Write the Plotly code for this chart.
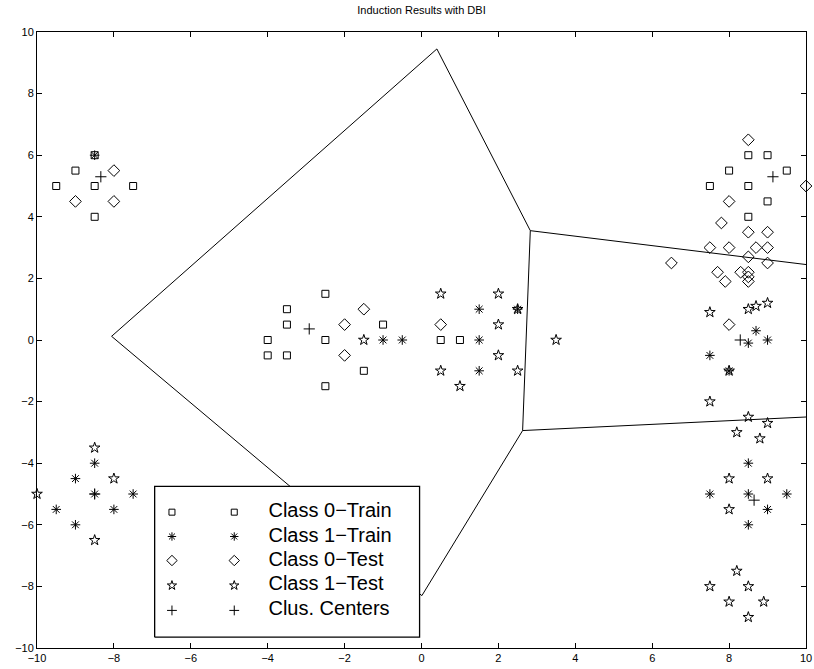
import plotly.graph_objects as go

# ---------------- data ----------------
c0_train_x = [-8.5, -9, -9.5, -8.5, -7.5, -8.5,
              -2.5, -3.5, -3.5, -4, -2.5, -4, -3.5, -1.5, -2.5, -1, 0.5, 1,
              8.5, 9, 8, 9.5, 7.5, 8.5, 9, 8.5]
c0_train_y = [6, 5.5, 5, 5, 5, 4,
              1.5, 1, 0.5, 0, 0, -0.5, -0.5, -1, -1.5, 0.5, 0, 0,
              6, 6, 5.5, 5.5, 5, 5, 4.5, 4]

c1_train_x = [-8.5,
              -8.5, -9, -8.5, -7.5, -9.5, -8, -9,
              -1, -0.5, 1.5, 1.5, 1.5, 2.5,
              8.7, 8.5, 9, 7.5, 8, 8.5, 7.5, 8.5, 9.5, 9, 8.5]
c1_train_y = [6,
              -4, -4.5, -5, -5, -5.5, -5.5, -6,
              0, 0, 1, 0, -1, 1,
              0.3, -0.1, 0, -0.5, -1, -4, -5, -5, -5, -5.5, -6]

c0_test_x = [-8, -9, -8,
             -1.5, -2, -2, 0.5,
             8.5, 10, 8, 7.8, 8.5, 9, 7.5, 8, 8.7, 9, 8.5, 9, 6.5, 7.7, 7.9,
             8.3, 8.5, 8.5, 8.5, 8]
c0_test_y = [5.5, 4.5, 4.5,
             1, 0.5, -0.5, 0.5,
             6.5, 5, 4.5, 3.8, 3.5, 3.5, 3, 3, 3, 3, 2.7, 2.5, 2.5, 2.2, 1.9,
             2.2, 2.2, 2.05, 1.9, 0.5]

c1_test_x = [-8.5, -8, -10, -8.5,
             -1.5, 0.5, 2, 2.5, 2, 3.5, 2, 0.5, 2.5, 1,
             7.5, 8.5, 8.7, 9, 8, 7.5, 8.5, 9, 8.2, 8.8, 8, 9, 8,
             8.2, 7.5, 8.5, 8, 8.9, 8.5]
c1_test_y = [-3.5, -4.5, -5, -6.5,
             0, 1.5, 1.5, 1, 0.5, 0, -0.5, -1, -1, -1.5,
             0.9, 1.0, 1.1, 1.2, -1, -2, -2.5, -2.7, -3, -3.2, -4.5, -4.5, -5.5,
             -7.5, -8, -8, -8.5, -8.5, -9]

centers_x = [-8.34, -8.5, -2.92, 8.29, 8.65, 9.14]
centers_y = [5.3, -5.0, 0.36, 0.0, -5.2, 5.3]

# decision boundary segments (None separates segments)
bound_x = [-8.06, 0.40, 2.83, 2.63, 0.01, -2.03, -8.06, None,
           2.83, 10, None,
           2.63, 10]
bound_y = [0.12, 9.45, 3.55, -2.94, -8.30, -6.21, 0.12, None,
           3.55, 2.45, None,
           -2.94, -2.50]

legend_labels = ["Class 0\u2212Train", "Class 1\u2212Train", "Class 0\u2212Test",
                 "Class 1\u2212Test", "Clus. Centers"]

# ---------------- styling ----------------
FONT = "Liberation Sans, Arial, Helvetica, sans-serif"
symbols = ["square-open", "asterisk-open", "diamond-open", "star-open", "cross-thin-open"]
sizes = [7, 8, 9, 8, 8]
leg_sizes = [6, 7, 8, 7, 7]

fig = go.Figure()

fig.add_trace(go.Scatter(x=bound_x, y=bound_y, mode="lines",
                         line=dict(color="black", width=1), hoverinfo="skip"))

series = [(c0_train_x, c0_train_y), (c1_train_x, c1_train_y),
          (c0_test_x, c0_test_y), (c1_test_x, c1_test_y),
          (centers_x, centers_y)]
for (sx, sy), sym, sz, name in zip(series, symbols, sizes, legend_labels):
    fig.add_trace(go.Scatter(
        x=sx, y=sy, mode="markers", name=name, cliponaxis=False,
        marker=dict(symbol=sym, size=sz, color="black",
                    line=dict(color="black", width=1))))

# legend box (drawn inside the axes, over the data)
LX0, LX1, LY0, LY1 = -6.94, -0.05, -9.65, -4.75
fig.add_trace(go.Scatter(
    x=[LX0, LX1, LX1, LX0, LX0], y=[LY0, LY0, LY1, LY1, LY0],
    mode="lines", fill="toself", fillcolor="white",
    line=dict(color="black", width=1.3), hoverinfo="skip"))

row_y = [-5.59, -6.38, -7.16, -7.97, -8.78]
col1_x, col2_x, text_x = -6.49, -4.87, -3.98
for i, (sym, sz, lab) in enumerate(zip(symbols, leg_sizes, legend_labels)):
    fig.add_trace(go.Scatter(
        x=[col1_x, col2_x], y=[row_y[i], row_y[i]], mode="markers",
        marker=dict(symbol=sym, size=sz, color="black",
                    line=dict(color="black", width=1)), hoverinfo="skip"))
    fig.add_trace(go.Scatter(
        x=[text_x], y=[row_y[i]], mode="text", text=[lab],
        textposition="middle right",
        textfont=dict(family=FONT, size=20, color="black"), hoverinfo="skip"))

axis_common = dict(
    showline=True, linecolor="black", linewidth=1, mirror="allticks",
    ticks="inside", ticklen=5, tickcolor="black", tickwidth=1,
    showgrid=False, zeroline=False, automargin=False,
    tickfont=dict(family=FONT, size=11, color="black"),
    range=[-10, 10], tickmode="array",
    tickvals=list(range(-10, 11, 2)), fixedrange=True)

fig.update_layout(
    width=814, height=669, autosize=False,
    margin=dict(l=37, r=8, t=32, b=21, autoexpand=False),
    plot_bgcolor="white", paper_bgcolor="white",
    showlegend=False,
    font=dict(family=FONT, color="black"),
    title=dict(text="Induction Results with DBI", x=0.5, xref="paper",
               xanchor="center", y=1 - 10 / 669, yref="container",
               yanchor="middle", font=dict(family=FONT, size=11, color="black")),
    xaxis=axis_common, yaxis=axis_common,
)

fig.write_html("out.html", config={"displayModeBar": False})

# remove the default page margin so the figure sits at the window origin
with open("out.html", "r", encoding="utf-8") as f:
    html = f.read()
html = html.replace("<head>", "<head><style>html,body{margin:0;padding:0;overflow:hidden;}</style>", 1)
with open("out.html", "w", encoding="utf-8") as f:
    f.write(html)
